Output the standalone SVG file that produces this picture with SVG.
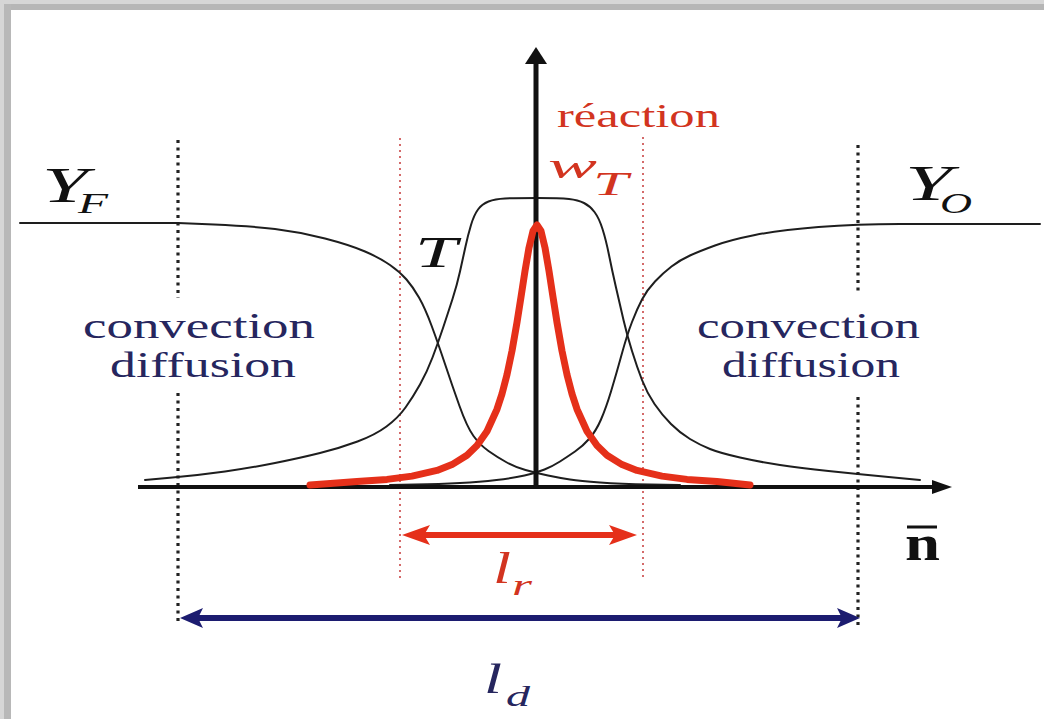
<svg xmlns="http://www.w3.org/2000/svg" width="1044" height="719" viewBox="0 0 1044 719">
<style>
.curve{fill:none;stroke:#1e1e1e;stroke-width:2;stroke-linejoin:round;stroke-linecap:round}
.red{fill:none;stroke:#e5301a;stroke-width:7;stroke-linejoin:round;stroke-linecap:round}
.dotk{stroke:#222;stroke-width:3.2;stroke-dasharray:3 4.5}
.dotr{stroke:#d46a6a;stroke-width:2;stroke-dasharray:2 4}
.serif{font-family:"Liberation Serif","Times New Roman",serif}
.it{font-style:italic}
.navy{fill:#26265e}
.blk{fill:#111}
.rd{fill:#d23420}
</style>
<rect x="0" y="0" width="1044" height="719" fill="#ffffff"/>
<g id="frame">
<rect x="0" y="0" width="1044" height="4" fill="#d6d6d6"/>
<rect x="0" y="4" width="1044" height="6" fill="#b6b6b6"/>
<rect x="0" y="0" width="4" height="719" fill="#d6d6d6"/>
<rect x="4" y="4" width="7" height="715" fill="#b8b8b8"/>
</g>
<g id="guides">
<line class="dotk" x1="178" y1="140" x2="178" y2="298"/>
<line class="dotk" x1="178" y1="393" x2="178" y2="625"/>
<line class="dotk" x1="858" y1="145" x2="858" y2="293"/>
<line class="dotk" x1="858" y1="397" x2="858" y2="625"/>
<line class="dotr" x1="400" y1="138" x2="400" y2="580"/>
<line class="dotr" x1="643" y1="137" x2="643" y2="580"/>
</g>
<g id="curves">
<path id="YF-curve" class="curve" d="M20,223 L178,223 L214,224.5 Q250,226 275,229 Q300,232 325,238.5 Q350,245 365,251.5 Q380,258 390,265 Q400,272 406.5,279.5 Q413,287 419,297.5 Q425,308 431.5,325.5 Q438,343 445,364 Q452,385 459.5,406 Q467,427 473.5,436 Q480,445 488.5,451 Q497,457 506,462 Q515,467 525.5,470 Q536,473 548,475.5 Q560,478 570,479.5 Q580,481 600,482.5 Q620,484 650,484.5 L680,485"/>
<path id="YO-curve" class="curve" d="M390,485 L415,484.5 Q440,484 460,483 Q480,482 496.5,480 Q513,478 524.5,475.5 Q536,473 544.5,469.5 Q553,466 560,461.5 Q567,457 575,451.5 Q583,446 589.5,438.5 Q596,431 601,419.5 Q606,408 611,391.5 Q616,375 621.5,355 Q627,335 632,322 Q637,309 642,299.5 Q647,290 655,281.5 Q663,273 671.5,266.5 Q680,260 690,255.5 Q700,251 715,245.5 Q730,240 755,235 Q780,230 818.5,227 Q857,224 900,224 L1040,224"/>
<path id="T-curve" class="curve" d="M145,480 L172.5,477.5 Q200,475 225,471.5 Q250,468 275,463 Q300,458 320,453 Q340,448 357.5,441.5 Q375,435 386.5,426.5 Q398,418 405.5,407.5 Q413,397 420,384.5 Q427,372 432.5,357.5 Q438,343 443,328 Q448,313 452.5,299 Q457,285 460,271.5 Q463,258 465.5,246.5 Q468,235 471,225 Q474,215 478,209.5 Q482,204 488.5,201.5 Q495,199 505,198.5 Q515,198 537.5,198 Q560,198 569,199 Q578,200 584,203 Q590,206 594.5,212 Q599,218 602.5,229 Q606,240 609,255 Q612,270 616,287.5 Q620,305 623.5,320 Q627,335 632,351 Q637,367 642,380 Q647,393 654.5,404 Q662,415 671,424 Q680,433 690,439 Q700,445 710,449 Q720,453 740,457.5 Q760,462 780,465 Q800,468 828.5,471 Q857,474 888.5,477 L920,480"/>
</g>
<g id="axes">
<line x1="138" y1="487" x2="936" y2="487" stroke="#111" stroke-width="4"/>
<polygon points="952,487 932,480 932,494" fill="#111"/>
<line x1="536" y1="489" x2="536" y2="60" stroke="#111" stroke-width="5"/>
<polygon points="536,47 525,64 547,64" fill="#111"/>
</g>
<g id="wT-curve">
<polyline class="red" points="310,485 327,483.7 357,481.6 387,479.4 412,476.1 437,470.4 452,464.6 467,455.2 477,445.6 487,431.2 497,409.2 502,393.8 507,374.6 512,350.9 517,322.4 521,297 525,271 529,247.7 533,231 537,225 541,231 545,247.7 549,271 553,297 557,322.4 562,350.9 567,374.6 572,393.8 577,409.2 587,431.2 597,445.6 607,455.2 622,464.6 637,470.4 662,476.1 687,479.4 717,481.6 750,485"/>
</g>
<g id="connectors">
<line x1="420" y1="535" x2="620" y2="535" stroke="#e5301a" stroke-width="6"/>
<polygon points="402,535 430,525 424,535 430,545" fill="#e5301a"/>
<polygon points="637,535 609,525 615,535 609,545" fill="#e5301a"/>
<line x1="195" y1="618" x2="845" y2="618" stroke="#1c1c70" stroke-width="6"/>
<polygon points="180,618 203,608 198,618 203,628" fill="#1c1c70"/>
<polygon points="860,618 837,608 842,618 837,628" fill="#1c1c70"/>
</g>
<g id="labels">
<g id="YF-label" class="serif it blk">
<text x="42" y="202" font-size="50" textLength="46" lengthAdjust="spacingAndGlyphs">Y</text>
<text x="78" y="213" font-size="30" textLength="30" lengthAdjust="spacingAndGlyphs">F</text>
</g>
<g id="YO-label" class="serif it blk">
<text x="905" y="200" font-size="50" textLength="47" lengthAdjust="spacingAndGlyphs">Y</text>
<text x="940" y="213" font-size="30" textLength="32" lengthAdjust="spacingAndGlyphs">O</text>
</g>
<g id="T-label" class="serif it blk">
<text x="415" y="267" font-size="45" textLength="42" lengthAdjust="spacingAndGlyphs">T</text>
</g>
<g id="reaction-label" class="serif rd">
<text x="557" y="127" font-size="33" textLength="163" lengthAdjust="spacingAndGlyphs">réaction</text>
</g>
<g id="wT-label" class="serif it rd">
<text x="548" y="178" font-size="36" textLength="49" lengthAdjust="spacingAndGlyphs">w</text>
<text x="593" y="195" font-size="33" textLength="35" lengthAdjust="spacingAndGlyphs">T</text>
</g>
<g id="left-zone" class="serif navy">
<text x="83" y="338" font-size="35" textLength="232" lengthAdjust="spacingAndGlyphs">convection</text>
<text x="110" y="377" font-size="35" textLength="186" lengthAdjust="spacingAndGlyphs">diffusion</text>
</g>
<g id="right-zone" class="serif navy">
<text x="697" y="338" font-size="35" textLength="223" lengthAdjust="spacingAndGlyphs">convection</text>
<text x="722" y="377" font-size="35" textLength="178" lengthAdjust="spacingAndGlyphs">diffusion</text>
</g>
<g id="n-label" class="serif blk">
<line x1="907" y1="527" x2="937" y2="527" stroke="#111" stroke-width="3"/>
<text x="905" y="560" font-size="50" font-weight="bold" textLength="35" lengthAdjust="spacingAndGlyphs">n</text>
</g>
<g id="lr-label" class="serif it rd">
<text x="493" y="583" font-size="45" textLength="18" lengthAdjust="spacingAndGlyphs">l</text>
<text x="512" y="595" font-size="30" textLength="20" lengthAdjust="spacingAndGlyphs">r</text>
</g>
<g id="ld-label" class="serif it navy">
<text x="484" y="693" font-size="42" textLength="18" lengthAdjust="spacingAndGlyphs">l</text>
<text x="506" y="706" font-size="30" textLength="24" lengthAdjust="spacingAndGlyphs">d</text>
</g>
</g>
</svg>
